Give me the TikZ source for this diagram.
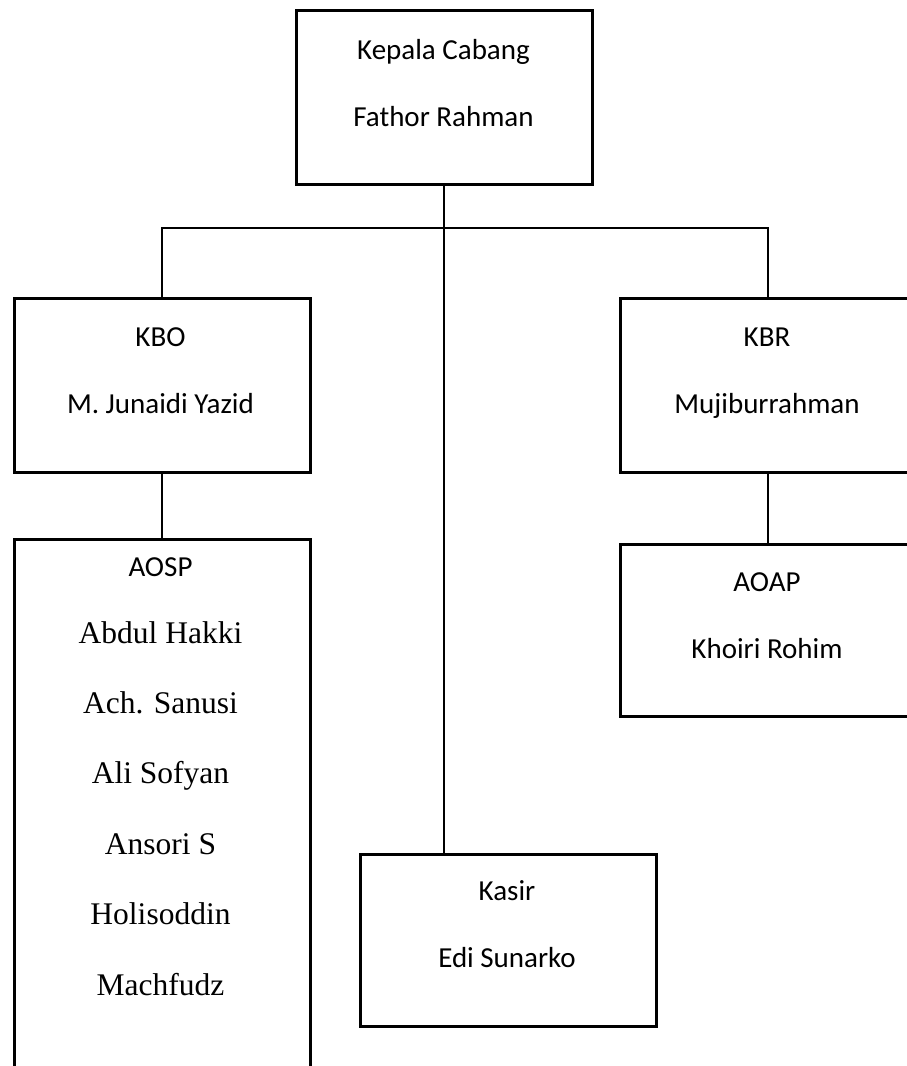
\documentclass[tikz,border=0pt]{standalone}
\usepackage{fontspec}
\setmainfont{Liberation Serif}
\newfontfamily\calibri{Carlito}

\begin{document}
\begin{tikzpicture}[x=1pt, y=-1pt,
    box/.style={rectangle, draw, line width=2.6pt, anchor=north west, minimum width=296pt, minimum height=174pt, inner sep=0pt},
    link/.style={line width=1.8pt},
    title/.style={font=\calibri\fontsize{29}{67}\selectfont, align=center, anchor=base, inner sep=0pt},
    names/.style={font=\fontsize{31.5}{70.4}\selectfont, align=center, anchor=base, inner sep=0pt}
]
\useasboundingbox (0,0) rectangle (907,1066);
\clip (0,0) rectangle (907,1066);

% boxes
\node[box] (kc) at (295,9) {};
\node[box] (kbo) at (13,297) {};
\node[box] (kbr) at (619,297) {};
\node[box, minimum height=560pt] (aosp) at (13,538) {};
\node[box, minimum height=172pt] (aoap) at (619,543) {};
\node[box, minimum height=172pt] (kasir) at (359,853) {};

% texts (anchored at the baseline of the last line)
\node[title] (kc-t) at (443.5,126) {Kepala Cabang\\Fathor Rahman};
\node[title] (kbo-t) at (160.5,413) {KBO\\M. Junaidi Yazid};
\node[title] (kbr-t) at (767,413) {KBR\\Mujiburrahman};
\node[title] (aoap-t) at (767,658) {AOAP\\Khoiri Rohim};
\node[title] (kasir-t) at (507,967) {Kasir\\Edi Sunarko};
\node[title] (aosp-t) at (160.5,576) {AOSP};
\node[names] (aosp-n) at (160.5,995) {Abdul Hakki\\Ach. Sanusi\\Ali Sofyan\\Ansori S\\Holisoddin\\Machfudz};

% lines
\coordinate (bus) at (441,228);
\draw[link] (kc.south) -- (kc.south |- kasir.north);
\draw[link] (kbo.north) |- (bus) -| (kbr.north);
\draw[link] (kbo.south) -- (aosp.north);
\draw[link] (kbr.south) -- (aoap.north);
\end{tikzpicture}
\end{document}
